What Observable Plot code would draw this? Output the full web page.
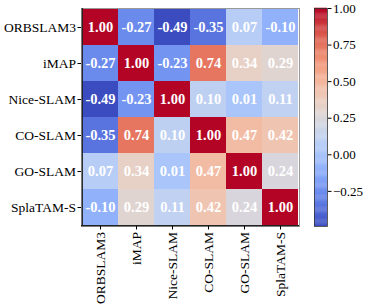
<!DOCTYPE html>
<html><head><meta charset="utf-8">
<script src="https://cdn.jsdelivr.net/npm/d3@7"></script>
<script src="https://cdn.jsdelivr.net/npm/@observablehq/plot@0.6"></script>
<style>
body{margin:0;background:#fff}
#wrap{position:relative;width:365px;height:308px;font-family:"Liberation Serif",serif}
#wrap svg{position:absolute;top:0}
</style></head><body><div id="wrap"></div>
<script>
const methods = ["ORBSLAM3","iMAP","Nice-SLAM","CO-SLAM","GO-SLAM","SplaTAM-S"];
const rowORBSLAM3 = [1.00,-0.27,-0.49,-0.35,0.07,-0.10];
const rowIMAP     = [-0.27,1.00,-0.23,0.74,0.34,0.29];
const rowNice     = [-0.49,-0.23,1.00,0.10,0.01,0.11];
const rowCO       = [-0.35,0.74,0.10,1.00,0.47,0.42];
const rowGO       = [0.07,0.34,0.01,0.47,1.00,0.24];
const rowSplaTAM  = [-0.10,0.29,0.11,0.42,0.24,1.00];
const corr = [rowORBSLAM3,rowIMAP,rowNice,rowCO,rowGO,rowSplaTAM];
const cbTicks = [1.00,0.75,0.50,0.25,0.00,-0.25];
const vmin = -0.49, vmax = 1.00;
const coolwarmStops = ["#3b4cc0","#6282ea","#8db0fe","#b8d0f9","#dddcdc","#f5c4ac","#f49a7b","#de604d","#b40426"];
const interp = d3.interpolateRgbBasis(coolwarmStops);

const data = corr.flatMap((row,i)=>row.map((v,j)=>({row:methods[i], col:methods[j], v})));
const colorOpt = {type:"linear", domain:[vmin,vmax], interpolate: interp};
const font = {fontFamily:"'Liberation Serif', serif", fontSize:"13.5px", color:"#000", background:"transparent", overflow:"visible"};

const heat = Plot.plot({
  width:305, height:308, marginLeft:81, marginTop:8, marginRight:6, marginBottom:82,
  style: font,
  x:{domain:methods, padding:0, label:null, tickRotate:-90, tickSize:3.5, tickPadding:2},
  y:{domain:methods, padding:0, label:null, tickSize:3.5, tickPadding:2},
  color: colorOpt,
  marks:[
    Plot.cell(data,{x:"col", y:"row", fill:"v"}),
    Plot.text(data,{x:"col", y:"row", text:d=>d.v.toFixed(2), fill:"white", fontWeight:"bold", fontSize:14.5}),
    Plot.frame({stroke:"#999", strokeWidth:1}),
    Plot.axisX({anchor:"bottom", tickRotate:-90, tickSize:3.5, tickPadding:2, label:null}),
    Plot.axisY({anchor:"left", tickSize:3.5, tickPadding:2, label:null}),
    Plot.ruleX([methods[0]],{stroke:"#222", strokeWidth:1.2, dx:-18.17}),
    Plot.ruleY([methods[5]],{stroke:"#222", strokeWidth:1.2, dy:18.17})
  ]
});
heat.style.left = "0px";

const steps = d3.range(200).map(i=>({a: vmin + (vmax-vmin)*i/200, b: vmin + (vmax-vmin)*(i+1)/200}));
const bar = Plot.plot({
  width:65, height:308, marginLeft:14, marginRight:38, marginTop:8, marginBottom:82,
  style: {...font, fontSize:"13px"},
  x:{domain:[0,1], axis:null},
  y:{domain:[vmin,vmax], label:null},
  color: colorOpt,
  marks:[
    Plot.rect(steps,{x1:0, x2:1, y1:"a", y2:d=>d.b+0.002, fill:d=>(d.a+d.b)/2}),
    Plot.frame({stroke:"#333", strokeWidth:0.8}),
    Plot.axisY({anchor:"right", ticks:cbTicks, tickFormat:d3.format(".2f"), tickSize:3.5, tickPadding:2, label:null})
  ]
});
bar.style.left = "300px";

const wrap = document.getElementById("wrap");
wrap.append(heat, bar);
</script></body></html>
